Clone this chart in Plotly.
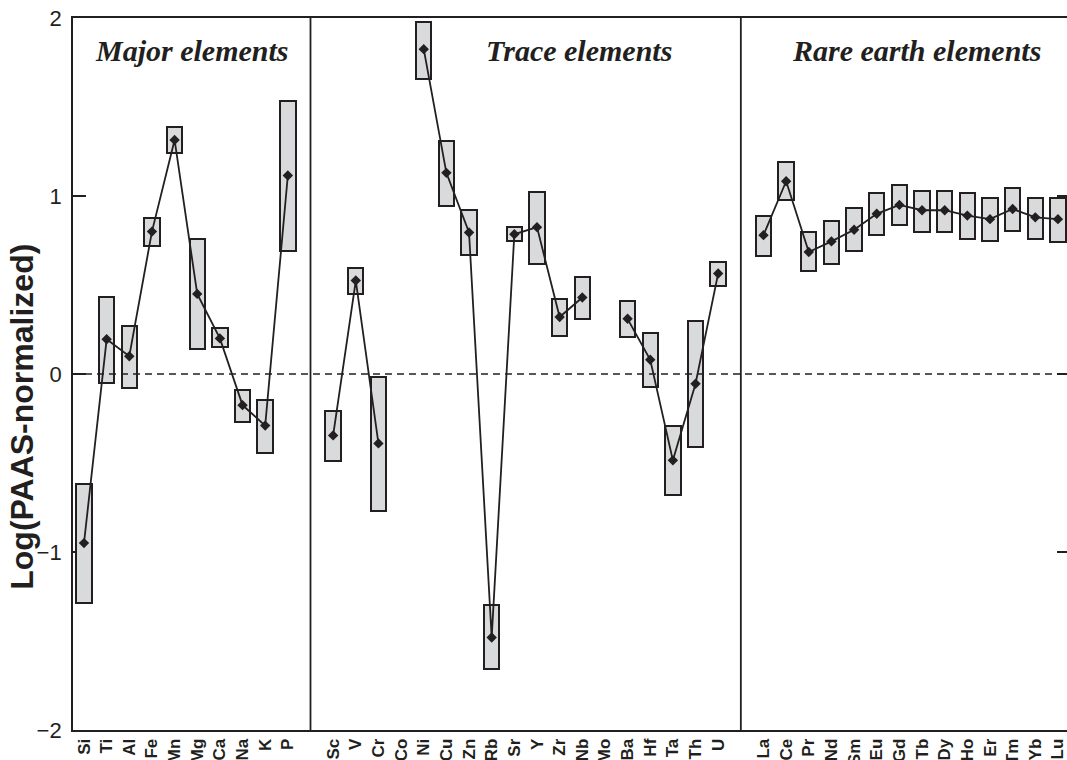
import plotly.graph_objects as go

# ---------------- data ----------------
major_elements = ["Si", "Ti", "Al", "Fe", "Mn", "Mg", "Ca", "Na", "K", "P"]
major_mean = [-0.95, 0.195, 0.10, 0.80, 1.315, 0.45, 0.20, -0.175, -0.29, 1.115]
major_min = [-1.285, -0.05, -0.08, 0.72, 1.24, 0.14, 0.15, -0.27, -0.445, 0.69]
major_max = [-0.62, 0.43, 0.27, 0.875, 1.39, 0.76, 0.26, -0.09, -0.146, 1.535]

trace_elements = ["Sc", "V", "Cr", "Co", "Ni", "Cu", "Zn", "Rb", "Sr", "Y",
                  "Zr", "Nb", "Mo", "Ba", "Hf", "Ta", "Th", "U"]
trace_mean = [-0.345, 0.525, -0.39, None, 1.825, 1.13, 0.795, -1.48, 0.785, 0.825,
              0.32, 0.43, None, 0.31, 0.08, -0.485, -0.055, 0.565]
trace_min = [-0.49, 0.45, -0.77, None, 1.655, 0.945, 0.67, -1.655, 0.75, 0.62,
             0.215, 0.31, None, 0.21, -0.075, -0.68, -0.41, 0.495]
trace_max = [-0.21, 0.595, -0.015, None, 1.98, 1.31, 0.92, -1.30, 0.825, 1.025,
             0.42, 0.545, None, 0.41, 0.23, -0.29, 0.30, 0.63]

ree_elements = ["La", "Ce", "Pr", "Nd", "Sm", "Eu", "Gd", "Tb", "Dy", "Ho",
                "Er", "Tm", "Yb", "Lu"]
ree_mean = [0.78, 1.083, 0.685, 0.745, 0.81, 0.90, 0.95, 0.92, 0.92, 0.89,
            0.87, 0.927, 0.88, 0.87]
ree_min = [0.665, 0.975, 0.577, 0.62, 0.69, 0.78, 0.835, 0.80, 0.80, 0.76,
           0.745, 0.805, 0.76, 0.74]
ree_max = [0.89, 1.19, 0.80, 0.86, 0.93, 1.015, 1.06, 1.03, 1.03, 1.017,
           0.99, 1.045, 0.99, 0.99]

group_titles = ["Major elements", "Trace elements", "Rare earth elements"]
y_ticks = [-2, -1, 0, 1, 2]

# ---------------- styling ----------------
INK = "#231f20"
BOX_FILL = "#d9dadb"
SANS = "Liberation Sans, Arial, Helvetica, sans-serif"
SERIF = "Liberation Serif, Times New Roman, serif"

groups = [
    (major_elements, major_mean, major_min, major_max),
    (trace_elements, trace_mean, trace_min, trace_max),
    (ree_elements, ree_mean, ree_min, ree_max),
]

fig = go.Figure()

all_pos, all_labels = [], []
divider_pos = []
start = 0
for gi, (names, mean, lo, hi) in enumerate(groups):
    pos = list(range(start, start + len(names)))
    all_pos += pos
    all_labels += names
    heights = [None if (a is None or b is None) else b - a for a, b in zip(lo, hi)]
    fig.add_trace(go.Bar(
        x=pos, y=heights, base=lo, width=0.68,
        marker=dict(color=BOX_FILL, line=dict(color=INK, width=2)),
        showlegend=False, hoverinfo="skip",
    ))
    fig.add_trace(go.Scatter(
        x=pos, y=mean, mode="lines+markers", connectgaps=False,
        line=dict(color=INK, width=1.8),
        marker=dict(symbol="diamond", size=8, color=INK),
        showlegend=False,
    ))
    start = pos[-1] + 2
    if gi < len(groups) - 1:
        divider_pos.append(pos[-1] + 1)

for d in divider_pos:
    fig.add_shape(type="line", xref="x", yref="paper", x0=d, x1=d, y0=0, y1=1,
                  line=dict(color=INK, width=1.8), layer="above")

fig.add_shape(type="line", xref="paper", yref="y", x0=0, x1=1, y0=0, y1=0,
              line=dict(color=INK, width=1.3, dash="7px,5px"), layer="above")

title_x = [0.120, 0.509, 0.849]
for t, xp in zip(group_titles, title_x):
    fig.add_annotation(text="<b><i>" + t + "</i></b>", xref="paper", yref="paper",
                       x=xp, y=0.955, showarrow=False, xanchor="center", yanchor="middle",
                       font=dict(family=SERIF, size=30, color=INK))

fig.add_annotation(text="<b>Log(PAAS-normalized)</b>", xref="paper", yref="paper",
                   x=-0.0513, y=0.44, textangle=-90, showarrow=False,
                   xanchor="center", yanchor="middle",
                   font=dict(family=SANS, size=32, color=INK))

fig.update_layout(
    width=1067, height=760,
    margin=dict(l=73, r=0, t=18, b=30),
    paper_bgcolor="white", plot_bgcolor="white",
    bargap=0, barmode="overlay",
    xaxis=dict(
        range=[-0.485, 43.4], tickmode="array", tickvals=all_pos, ticktext=all_labels,
        tickangle=-90, ticks="", showgrid=False, zeroline=False, automargin=False,
        ticklabeloverflow="allow",
        showline=True, linecolor=INK, linewidth=1.8, mirror=True,
        tickfont=dict(family=SANS, size=17, color=INK, weight="bold"),
    ),
    yaxis=dict(
        range=[-2, 2], tickmode="array", tickvals=y_ticks, automargin=False,
        ticks="inside", ticklen=13, tickwidth=1.6, tickcolor=INK,
        showgrid=False, zeroline=False, showline=True, linecolor=INK, linewidth=1.8,
        layer="below traces", ticklabelstandoff=5,
        tickfont=dict(family=SANS, size=22, color=INK),
    ),
    yaxis2=dict(
        range=[-2, 2], overlaying="y", side="right", tickmode="array", tickvals=y_ticks,
        ticks="inside", ticklen=10, tickwidth=1.6, tickcolor=INK, automargin=False,
        showticklabels=False, showgrid=False, zeroline=False, showline=False,
        layer="below traces",
    ),
)

# invisible trace to activate the right-hand axis ticks
fig.add_trace(go.Scatter(x=[all_pos[0]], y=[None], yaxis="y2", showlegend=False,
                         hoverinfo="skip"))

fig.write_html("out.html")
